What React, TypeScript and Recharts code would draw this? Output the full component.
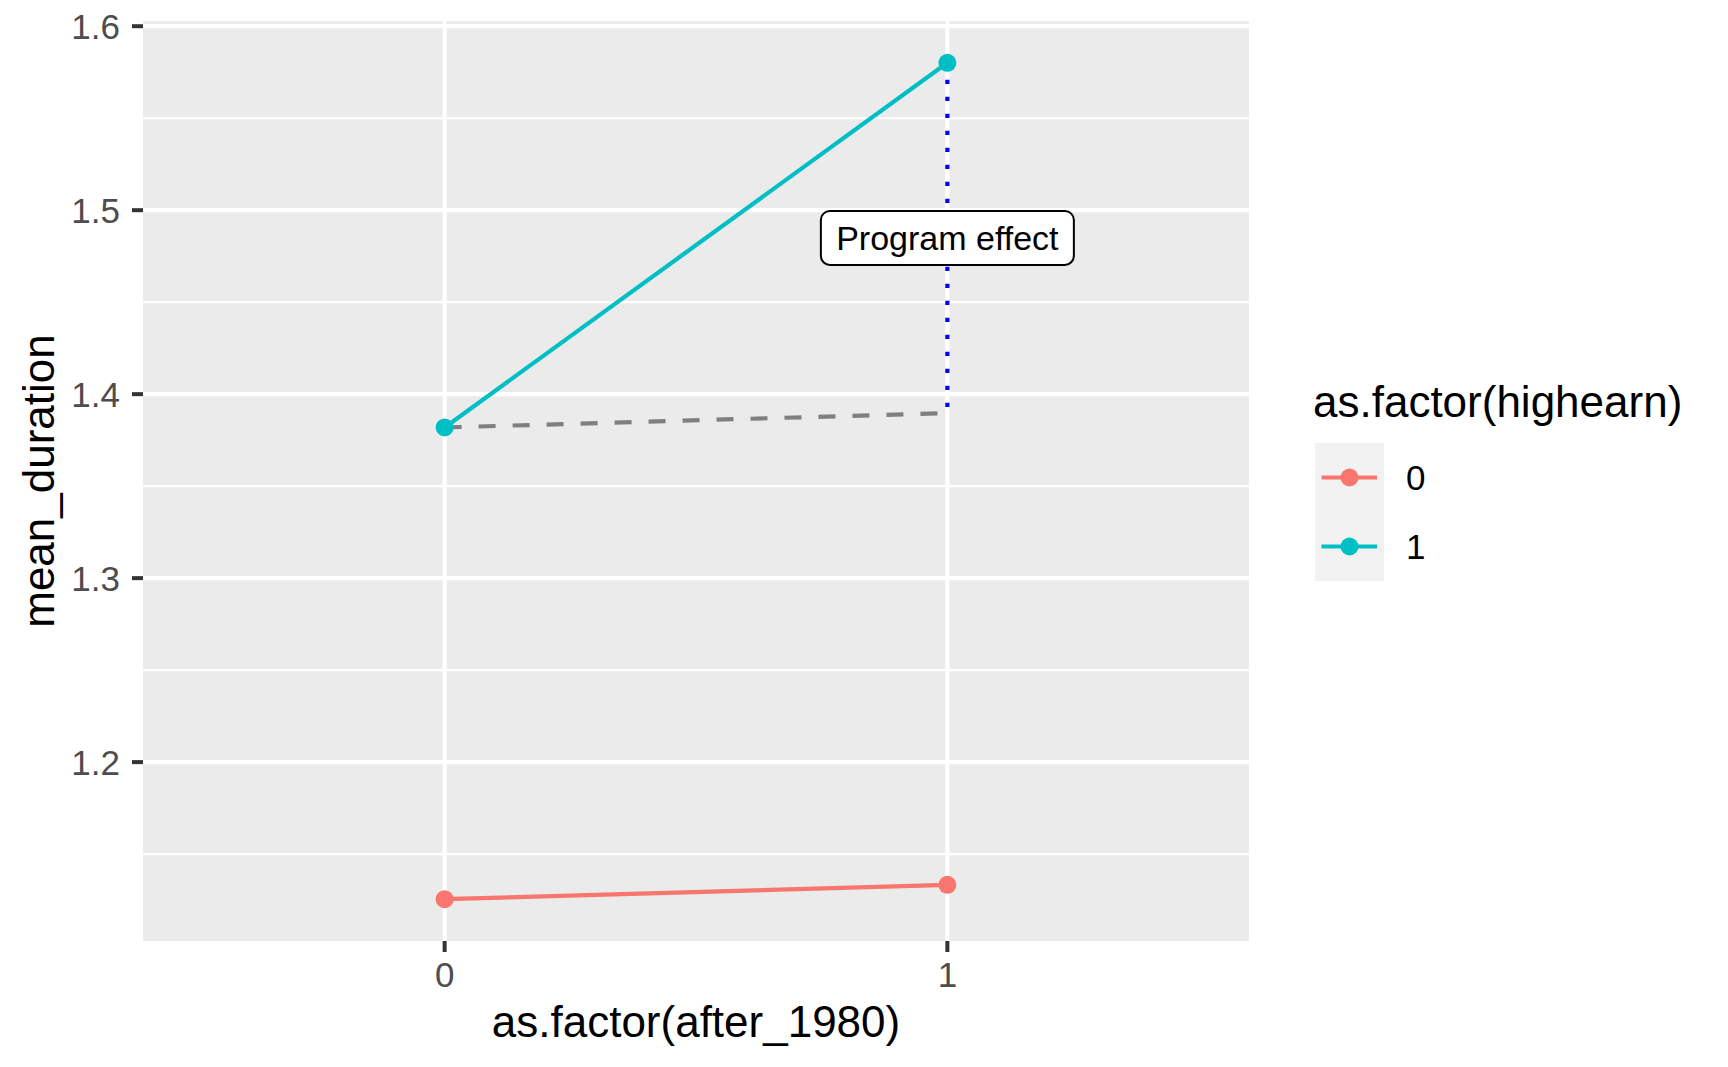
import React from 'react';
import {
  LineChart,
  Line,
  XAxis,
  YAxis,
  CartesianGrid,
  ReferenceLine,
  ReferenceDot,
  Legend,
} from 'recharts';

// ---- data ----
const after1980 = [0, 1];
const xTickLabels = ['0', '1'];
const highearn0 = [1.1255, 1.1333];
const highearn1 = [1.3819, 1.5801];
const counterfactual = [1.3819, 1.3897];
const yTicks = [1.2, 1.3, 1.4, 1.5, 1.6];
const yMinorTicks = [1.15, 1.25, 1.35, 1.45, 1.55];
const legendLabels = ['0', '1'];
const legendTitle = 'as.factor(highearn)';
const xTitle = 'as.factor(after_1980)';
const yTitle = 'mean_duration';
const effectLabel = 'Program effect';

const RED = '#F8766D';
const CYAN = '#00BFC4';
const FONT = '"Liberation Sans", Arial, Helvetica, sans-serif';

const data = after1980.map((x, i) => ({
  x,
  hi0: highearn0[i],
  hi1: highearn1[i],
  cf: counterfactual[i],
}));

const allY = [...highearn0, ...highearn1, ...counterfactual];
const yMin = Math.min(...allY);
const yMax = Math.max(...allY);
const yPad = (yMax - yMin) * 0.05;
const yDomain: [number, number] = [yMin - yPad, yMax + yPad];

const effectMid = (highearn1[1] + counterfactual[1]) / 2;

const renderLegend = (props: any) => {
  const items = (props.payload || []).filter((p: any) => p.type !== 'none');
  return (
    <svg width={440} height={220} style={{ display: 'block', overflow: 'visible', fontFamily: FONT }}>
      <text x={13} y={47} fontSize={44} fill="#000">
        {legendTitle}
      </text>
      <rect x={15} y={73} width={69} height={69 * items.length} fill="#F2F2F2" />
      {items.map((it: any, i: number) => {
        const cy = 73 + 34.5 + i * 69;
        return (
          <g key={i}>
            <line x1={21.5} x2={77} y1={cy} y2={cy} stroke={it.color} strokeWidth={4.2} />
            <circle cx={49.5} cy={cy} r={9} fill={it.color} />
            <text x={106} y={cy} dy="0.36em" fontSize={35} fill="#000">
              {it.value}
            </text>
          </g>
        );
      })}
    </svg>
  );
};

const EffectLabel = (props: any) => {
  const { cx, cy } = props;
  return (
    <g>
      <rect x={cx - 126.5} y={cy - 27} width={253} height={54} rx={9} ry={9} fill="#FFFFFF" stroke="#000" strokeWidth={2} />
      <text x={cx} y={cy} dy="0.36em" textAnchor="middle" fontSize={34} fill="#000" style={{ fontFamily: FONT }}>
        {effectLabel}
      </text>
    </g>
  );
};

export default function App() {
  return (
    <div style={{ position: 'absolute', left: 0, top: 0, width: 1728, height: 1067, background: '#fff', fontFamily: FONT }}>
      <LineChart
        width={1728}
        height={1067}
        data={data}
        margin={{ top: 21, right: 479, left: 0, bottom: 0 }}
      >
        <CartesianGrid
          fill="#EBEBEB"
          stroke="#FFFFFF"
          strokeWidth={2.1}
          vertical={false}
          horizontalValues={yMinorTicks}
        />
        <CartesianGrid
          stroke="#FFFFFF"
          strokeWidth={4.2}
          horizontalValues={yTicks}
          verticalValues={after1980}
        />
        <XAxis
          type="number"
          dataKey="x"
          domain={[-0.6, 1.6]}
          ticks={after1980}
          tickFormatter={(v: number) => xTickLabels[v]}
          height={126}
          axisLine={false}
          tickLine={{ stroke: '#333333', strokeWidth: 4 }}
          tickSize={11}
          tickMargin={10}
          tick={{ fontSize: 35, fill: '#4D4D4D', fontFamily: FONT }}
          label={{ value: xTitle, position: 'insideBottom', offset: 30, fontSize: 44, fill: '#000', fontFamily: FONT }}
        />
        <YAxis
          type="number"
          domain={yDomain}
          ticks={yTicks}
          tickFormatter={(v: number) => v.toFixed(1)}
          width={143}
          axisLine={false}
          tickLine={{ stroke: '#333333', strokeWidth: 4 }}
          tickSize={11}
          tickMargin={12}
          tick={{ fontSize: 35, fill: '#4D4D4D', fontFamily: FONT }}
          label={{
            value: yTitle,
            angle: -90,
            position: 'insideLeft',
            offset: 38,
            fontSize: 44,
            fill: '#000',
            fontFamily: FONT,
            style: { textAnchor: 'middle' },
          }}
        />
        <Line
          dataKey="hi0"
          name={legendLabels[0]}
          stroke={RED}
          strokeWidth={4.2}
          dot={{ r: 9, fill: RED, stroke: 'none' }}
          activeDot={false}
          isAnimationActive={false}
        />
        <Line
          dataKey="hi1"
          name={legendLabels[1]}
          stroke={CYAN}
          strokeWidth={4.2}
          dot={{ r: 9, fill: CYAN, stroke: 'none' }}
          activeDot={false}
          isAnimationActive={false}
        />
        <Line
          dataKey="cf"
          name="counterfactual"
          legendType="none"
          stroke="#7F7F7F"
          strokeWidth={4.2}
          strokeDasharray="17 17"
          dot={false}
          activeDot={false}
          isAnimationActive={false}
        />
        <ReferenceLine
          segment={[
            { x: after1980[1], y: highearn1[1] },
            { x: after1980[1], y: counterfactual[1] },
          ]}
          stroke="#0000FF"
          strokeWidth={4.2}
          strokeDasharray="4.2 12.8"
          ifOverflow="visible"
        />
        <ReferenceDot x={after1980[1]} y={effectMid} r={0} shape={EffectLabel} ifOverflow="visible" />
        <Legend
          layout="horizontal"
          verticalAlign="middle"
          align="center"
          wrapperStyle={{ left: 1300, top: 370, width: 440, height: 220 }}
          content={renderLegend}
        />
      </LineChart>
    </div>
  );
}
